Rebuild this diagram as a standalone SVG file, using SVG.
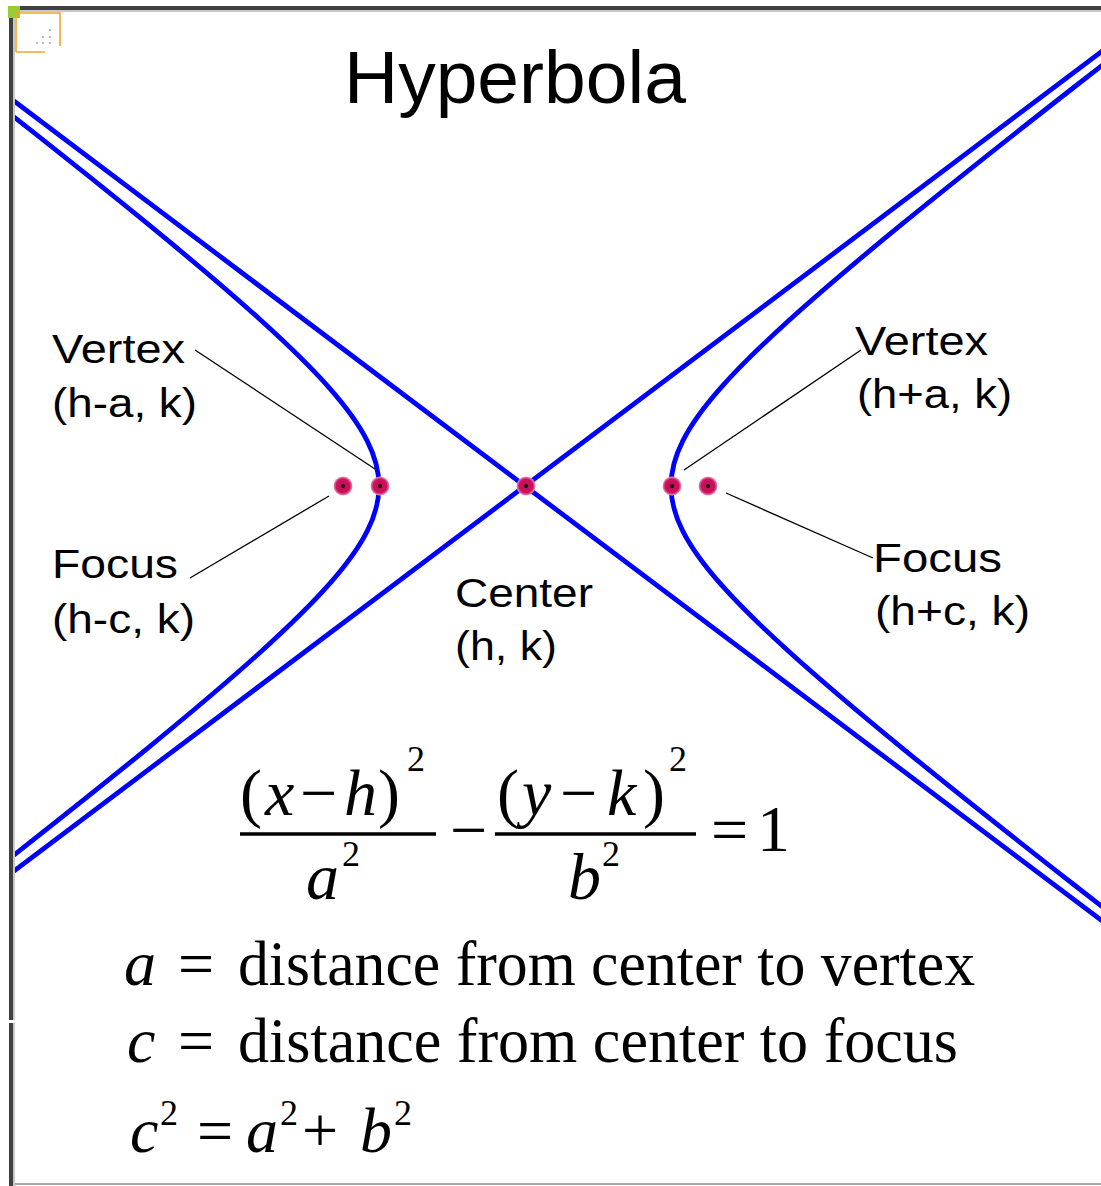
<svg xmlns="http://www.w3.org/2000/svg" width="1101" height="1186" viewBox="0 0 1101 1186">
  <style>
    .lbl { font-family: "Liberation Sans", Arial, sans-serif; font-size: 41px; fill: #000; }
    .title { font-family: "Liberation Sans", Arial, sans-serif; font-size: 75px; fill: #000; }
    .m { font-family: "Liberation Serif", "Times New Roman", serif; font-size: 66px; fill: #000; }
    .mi { font-family: "Liberation Serif", "Times New Roman", serif; font-size: 66px; font-style: italic; fill: #000; }
    .d { font-family: "Liberation Serif", "Times New Roman", serif; font-size: 64px; fill: #000; }
    .di { font-family: "Liberation Serif", "Times New Roman", serif; font-size: 64px; font-style: italic; fill: #000; }
    .sup { font-family: "Liberation Serif", "Times New Roman", serif; font-size: 36px; fill: #000; }
    .curve { fill: none; stroke: #0000ff; stroke-width: 4.8; }
    .leader { fill: none; stroke: #000; stroke-width: 1.3; }
    .bar { stroke: #000; stroke-width: 3.5; }
  </style>
  <defs>
    <clipPath id="plot">
      <rect x="15" y="12" width="1086" height="1170"/>
    </clipPath>
    <radialGradient id="dotGrad">
      <stop offset="0" stop-color="#c40f55"/>
      <stop offset="0.72" stop-color="#cc105e"/>
      <stop offset="1" stop-color="#ec9cbc"/>
    </radialGradient>
    <path id="branch" d="M666.9,490.3 L549.3,399.0 C478.7,343.8 422.5,299.1 376.3,261.3 C330.1,223.5 293.8,192.6 264.4,166.0 C235.0,139.4 212.6,117.3 195.3,97.7 C178.0,78.1 165.8,61.05 157.8,45.2 C149.8,29.35 146,14.67 146,0 C146,-14.67 149.8,-29.35 157.8,-45.2 C165.8,-61.05 178.0,-78.1 195.3,-97.7 C212.6,-117.3 235.0,-139.4 264.4,-166.0 C293.8,-192.6 330.1,-223.5 376.3,-261.3 C422.5,-299.1 478.7,-343.8 549.3,-399.0 L666.9,-490.3"/>
    <g id="dot">
      <circle r="9.5" fill="url(#dotGrad)"/>
      <circle r="1.9" fill="#000"/>
    </g>
  </defs>

  <rect width="1101" height="1186" fill="#fff"/>

  <!-- frame -->
  <g id="frame">
    <rect x="20" y="6" width="1081" height="4" fill="#404040"/>
    <rect x="20" y="10" width="1081" height="2" fill="#c8c8c8"/>
    <rect x="9" y="18" width="4" height="1002" fill="#404040"/>
    <rect x="13" y="18" width="2" height="1002" fill="#c8c8c8"/>
    <rect x="9" y="1023" width="4" height="163" fill="#404040"/>
    <rect x="13" y="1023" width="2" height="163" fill="#c8c8c8"/>
    <rect x="15" y="1183" width="1086" height="2" fill="#a8a8a8"/>
    <rect x="8" y="6" width="12" height="12" fill="#99cc33"/>
    <path d="M16,52 H45 M16,52 V13 H60 V46" fill="none" stroke="#f5a623" stroke-width="1.6"/>
    <g fill="#999">
      <circle cx="50" cy="30" r="0.9"/>
      <circle cx="43" cy="37" r="0.9"/>
      <circle cx="50" cy="37" r="0.9"/>
      <circle cx="37" cy="43" r="0.9"/>
      <circle cx="43" cy="43" r="0.9"/>
      <circle cx="50" cy="43" r="0.9"/>
    </g>
  </g>

  <text id="title" class="title" x="344" y="103">Hyperbola</text>

  <!-- curves -->
  <g id="curves" clip-path="url(#plot)">
    <line class="curve" x1="-10" y1="83" x2="1110" y2="926.7"/>
    <line class="curve" x1="-10" y1="889" x2="1110" y2="45.3"/>
    <use href="#branch" class="curve" transform="translate(525,486)"/>
    <use href="#branch" class="curve" transform="translate(525,486) scale(-1,1)"/>
  </g>

  <!-- connectors -->
  <g id="connectors">
    <line class="leader" x1="195" y1="350" x2="375" y2="469"/>
    <line class="leader" x1="190" y1="578" x2="329" y2="496"/>
    <line class="leader" x1="861" y1="350" x2="684" y2="470"/>
    <line class="leader" x1="726" y1="493" x2="873" y2="558"/>
  </g>

  <!-- points -->
  <g id="left-focus"><use href="#dot" x="343" y="486"/></g>
  <g id="left-vertex"><use href="#dot" x="380" y="486"/></g>
  <g id="center"><use href="#dot" x="526" y="486"/></g>
  <g id="right-vertex"><use href="#dot" x="672" y="486"/></g>
  <g id="right-focus"><use href="#dot" x="708" y="486"/></g>

  <!-- labels -->
  <g id="label-left-vertex">
    <text class="lbl" x="52" y="363" textLength="133" lengthAdjust="spacingAndGlyphs">Vertex</text>
    <text class="lbl" x="52" y="417" textLength="145" lengthAdjust="spacingAndGlyphs">(h-a, k)</text>
  </g>
  <g id="label-left-focus">
    <text class="lbl" x="52" y="578" textLength="126" lengthAdjust="spacingAndGlyphs">Focus</text>
    <text class="lbl" x="52" y="633" textLength="143" lengthAdjust="spacingAndGlyphs">(h-c, k)</text>
  </g>
  <g id="label-right-vertex">
    <text class="lbl" x="855" y="355" textLength="133" lengthAdjust="spacingAndGlyphs">Vertex</text>
    <text class="lbl" x="857" y="408" textLength="155" lengthAdjust="spacingAndGlyphs">(h+a, k)</text>
  </g>
  <g id="label-right-focus">
    <text class="lbl" x="873" y="572" textLength="129" lengthAdjust="spacingAndGlyphs">Focus</text>
    <text class="lbl" x="875" y="625" textLength="155" lengthAdjust="spacingAndGlyphs">(h+c, k)</text>
  </g>
  <g id="label-center">
    <text class="lbl" x="455" y="607" textLength="138" lengthAdjust="spacingAndGlyphs">Center</text>
    <text class="lbl" x="455" y="660" textLength="102" lengthAdjust="spacingAndGlyphs">(h, k)</text>
  </g>

  <!-- equation -->
  <g id="equation">
    <text class="m" x="240" y="815">(</text>
    <text class="mi" x="265" y="815">x</text>
    <text class="m" x="300" y="815">−</text>
    <text class="mi" x="344" y="815">h</text>
    <text class="m" x="378" y="815">)</text>
    <text class="sup" x="407" y="771">2</text>
    <line class="bar" x1="240" y1="834" x2="436" y2="834"/>
    <text class="mi" x="306" y="899">a</text>
    <text class="sup" x="342" y="866">2</text>
    <text class="m" x="450" y="852">−</text>
    <text class="m" x="497" y="815">(</text>
    <text class="mi" x="522" y="815">y</text>
    <text class="m" x="560" y="815">−</text>
    <text class="mi" x="607" y="815">k</text>
    <text class="m" x="643" y="815">)</text>
    <text class="sup" x="669" y="771">2</text>
    <line class="bar" x1="495" y1="834" x2="696" y2="834"/>
    <text class="mi" x="568" y="899">b</text>
    <text class="sup" x="602" y="866">2</text>
    <text class="m" x="711" y="852">=</text>
    <text class="m" x="757" y="851">1</text>
  </g>

  <g id="definitions">
    <text class="di" x="124" y="985">a</text>
    <text class="d" x="178" y="985">=</text>
    <text class="d" x="238" y="985" textLength="737" lengthAdjust="spacingAndGlyphs">distance from center to vertex</text>
    <text class="di" x="127" y="1062">c</text>
    <text class="d" x="178" y="1062">=</text>
    <text class="d" x="238" y="1062" textLength="720" lengthAdjust="spacingAndGlyphs">distance from center to focus</text>
    <text class="di" x="130" y="1152">c</text>
    <text class="sup" x="160" y="1125">2</text>
    <text class="d" x="197" y="1152">=</text>
    <text class="di" x="246" y="1152">a</text>
    <text class="sup" x="280" y="1125">2</text>
    <text class="d" x="302" y="1152">+</text>
    <text class="di" x="360" y="1152">b</text>
    <text class="sup" x="394" y="1125">2</text>
  </g>
</svg>
